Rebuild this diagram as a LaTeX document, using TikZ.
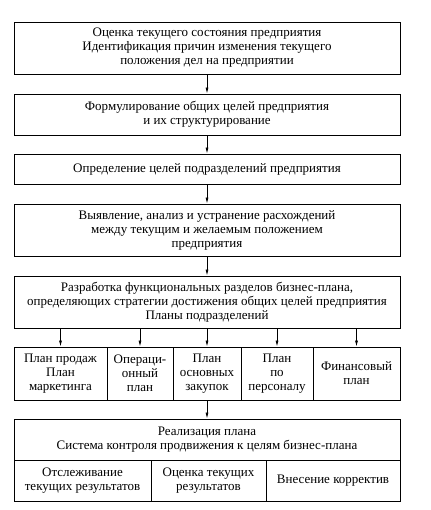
\documentclass[tikz,border=0pt]{standalone}
\usepackage{fontspec}
\setmainfont{Liberation Serif}
\newfontfamily\tekst{Liberation Serif}
\usetikzlibrary{arrows.meta}

\tikzset{
  blok/.style={draw, line width=0.9pt, inner sep=0pt, align=center, font=\tekst\fontsize{13}{14}\selectfont},
  strelka/.style={line width=0.7pt, -{Latex[length=6pt,width=3pt]}}
}

\begin{document}
\begin{tikzpicture}[x=1pt,y=1pt]
\useasboundingbox (0,0) rectangle (430,510);
\node[blok, minimum width=386, minimum height=52] (ocenka) at (207,462)
  {Оценка текущего состояния предприятия\\Идентификация причин изменения текущего\\положения дел на предприятии};
\node[blok, minimum width=386, minimum height=41] (celi) at (207,395.5)
  {Формулирование общих целей предприятия\\и их структурирование};
\node[blok, minimum width=386, minimum height=30] (podr) at (207,341)
  {Определение целей подразделений предприятия};
\node[blok, minimum width=386, minimum height=52] (rash) at (207,280)
  {Выявление, анализ и устранение расхождений\\между текущим и желаемым положением\\предприятия};
\node[blok, minimum width=386, minimum height=52] (razr) at (207,208)
  {Разработка функциональных разделов бизнес-плана,\\определяющих стратегии достижения общих целей предприятия\\Планы подразделений};
% planы podrazdelenij
\node[blok, minimum width=93, minimum height=53] (p1) at (60.5,136.5)
  {План продаж\\План\\маркетинга};
\node[blok, minimum width=66, minimum height=53] (p2) at (140,136.5)
  {Операци-\\онный\\план};
\node[blok, minimum width=68, minimum height=53] (p3) at (207,136.5)
  {План\\основных\\закупок};
\node[blok, minimum width=72, minimum height=53] (p4) at (277,136.5)
  {План\\по\\персоналу};
\node[blok, minimum width=87, minimum height=53] (p5) at (356.5,136.5)
  {Финансовый\\план};
% realizaciya
\node[blok, minimum width=386, minimum height=41] (real) at (207,70.5)
  {Реализация плана\\Система контроля продвижения к целям бизнес-плана};
\node[blok, minimum width=137, minimum height=41] (r1) at (82.5,29.5)
  {Отслеживание\\текущих результатов};
\node[blok, minimum width=115, minimum height=41] (r2) at (208.5,29.5)
  {Оценка текущих\\результатов};
\node[blok, minimum width=134, minimum height=41] (r3) at (333,29.5)
  {Внесение корректив};
\draw[strelka] (ocenka) -- (celi);
\draw[strelka] (celi) -- (podr);
\draw[strelka] (podr) -- (rash);
\draw[strelka] (rash) -- (razr);
\foreach \p in {p1,p2,p3,p4,p5}
  \draw[strelka] (\p |- razr.south) -- (\p);
\draw[strelka] (p3) -- (real);
\end{tikzpicture}
\end{document}
